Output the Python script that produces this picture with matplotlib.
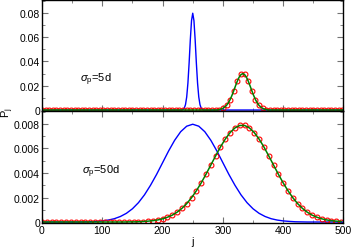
import numpy as np
import matplotlib
matplotlib.use("Agg")
import matplotlib.pyplot as plt
from matplotlib.ticker import MultipleLocator, FuncFormatter

plt.rcParams['font.family'] = ['Liberation Sans', 'DejaVu Sans']
plt.rcParams['mathtext.fontset'] = 'custom'
plt.rcParams['mathtext.rm'] = 'Liberation Sans'
plt.rcParams['mathtext.it'] = 'Liberation Sans:italic'

# ---- top panel (sigma_p = 5d) ----
top_blue_j = [0, 230, 232, 234, 236, 238, 240, 242, 244, 246, 248, 250,
              252, 254, 256, 258, 260, 262, 264, 266, 268, 270, 500]
top_blue_p = [0, 0, 0.00012, 0.00048, 0.00158, 0.00448, 0.0108, 0.0222, 0.0388, 0.0580, 0.0737, 0.0798,
              0.0737, 0.0580, 0.0388, 0.0222, 0.0108, 0.00448, 0.00158, 0.00048, 0.00012, 0, 0]

top_green_j = [0, 291, 294, 297, 300, 303, 306, 309, 312, 315, 318, 321, 324, 327, 330, 333,
               336, 339, 342, 345, 348, 351, 354, 357, 360, 363, 366, 369, 372, 375, 500]
top_green_p = [0, 0, 0.0004, 0.0008, 0.0014, 0.0024, 0.0038, 0.0059, 0.0086, 0.0120, 0.0159, 0.0200,
               0.0239, 0.0271, 0.0292, 0.0300, 0.0292, 0.0271, 0.0239, 0.0200, 0.0159, 0.0120,
               0.0086, 0.0059, 0.0038, 0.0024, 0.0014, 0.0008, 0.0004, 0, 0]

top_red_j = np.arange(0, 499, 6)
top_red_p = ([0.0] * 48 +
             [0.0001, 0.0004, 0.0014, 0.0038, 0.0086, 0.0159, 0.0239, 0.0293,
              0.0293, 0.0239, 0.0159, 0.0086, 0.0038, 0.0014, 0.0004, 0.0001] +
             [0.0] * 20)

# ---- bottom panel (sigma_p = 50d) ----
bot_blue_j = np.arange(0, 501, 10)
bot_blue_p = ([0.0] * 7 +
              [0.00001, 0.00002, 0.00005, 0.00009, 0.00016, 0.00027, 0.00045, 0.00071, 0.00108,
               0.00158, 0.00222, 0.00300, 0.00388, 0.00484, 0.00580, 0.00667, 0.00737, 0.00782,
               0.00798,
               0.00782, 0.00737, 0.00667, 0.00580, 0.00484, 0.00388, 0.00300, 0.00222, 0.00158,
               0.00108, 0.00071, 0.00045, 0.00027, 0.00016, 0.00009, 0.00005, 0.00002, 0.00001] +
              [0.0] * 7)

bot_red_j = np.arange(0, 497, 8)
bot_red_p = ([0.0] * 18 +
             [0.00001, 0.00001, 0.00002, 0.00004, 0.00007, 0.00011, 0.00017, 0.00026, 0.00039,
              0.00056, 0.00080, 0.00111, 0.00150, 0.00198, 0.00255, 0.00319, 0.00390, 0.00465,
              0.00540, 0.00613, 0.00677, 0.00730, 0.00768, 0.00788,
              0.00788, 0.00768, 0.00730, 0.00677, 0.00613, 0.00540, 0.00465, 0.00390, 0.00319,
              0.00255, 0.00198, 0.00150, 0.00111, 0.00080, 0.00056, 0.00039, 0.00026, 0.00017,
              0.00011, 0.00007, 0.00004])

fig = plt.figure(figsize=(3.54, 2.51), dpi=100)
ax1 = fig.add_axes([0.1186, 0.5538, 0.8517, 0.4442])
ax2 = fig.add_axes([0.1186, 0.1076, 0.8517, 0.4462])


def fmt(v, pos):
    if abs(v) < 1e-12:
        return "0"
    return ("%g" % v)


def style(ax):
    ax.set_xlim(0, 500)
    ax.xaxis.set_major_locator(MultipleLocator(100))
    ax.xaxis.set_minor_locator(MultipleLocator(50))
    ax.tick_params(which='both', direction='in', top=True, right=True,
                   color='0.45', labelsize=7.5, pad=1.5)
    ax.tick_params(which='major', length=4)
    ax.tick_params(which='minor', length=2)
    ax.yaxis.set_major_formatter(FuncFormatter(fmt))
    for s in ax.spines.values():
        s.set_linewidth(1.0)


# top
ax1.plot(top_blue_j, top_blue_p, color='blue', lw=1.0)
ax1.plot(top_red_j, top_red_p, 'o', ms=3.5, mfc='none', mec='red', mew=0.8)
ax1.plot(top_green_j, top_green_p, color='green', lw=1.1)
style(ax1)
ax1.set_ylim(-0.0008, 0.0911)
ax1.yaxis.set_major_locator(MultipleLocator(0.02))
ax1.yaxis.set_minor_locator(MultipleLocator(0.01))
ax1.tick_params(labelbottom=False)
ax1.text(63, 0.0256, r'$\sigma_{\rm p}$=5d', fontsize=8, va='center')

# bottom
ax2.plot(bot_blue_j, bot_blue_p, color='blue', lw=1.0)
ax2.plot(bot_red_j, bot_red_p, 'o', ms=3.5, mfc='none', mec='red', mew=0.8)
ax2.plot(bot_red_j, bot_red_p, color='green', lw=1.1)
style(ax2)
ax2.set_ylim(-0.00008, 0.00906)
ax2.yaxis.set_major_locator(MultipleLocator(0.002))
ax2.yaxis.set_minor_locator(MultipleLocator(0.001))
ax2.set_xlabel('j', fontsize=8, labelpad=1)
ax2.text(66, 0.0042, r'$\sigma_{\rm p}$=50d', fontsize=8, va='center')

fig.text(0.022, 0.55, r'P$_{\rm j}$', rotation=90, fontsize=8, va='center', ha='center')

fig.savefig('out.png', dpi=100)
